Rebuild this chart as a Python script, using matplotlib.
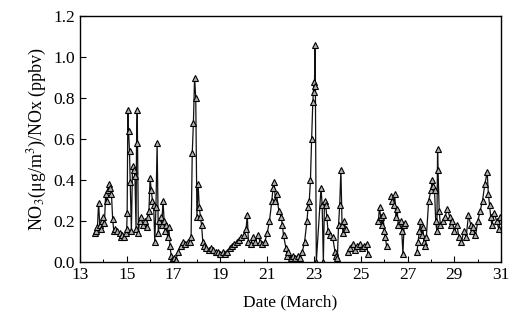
import numpy as np
import matplotlib
matplotlib.use('Agg')
import matplotlib.pyplot as plt

# day of March and NO3/NOx ratio, nan = gap in record
days = [13.65, 13.7, 13.75, 13.8, 13.85, 13.9, 13.95, 14.0, 14.05, 14.1, 14.15, 14.2, 14.25, 14.3, 14.35,
        14.4, 14.45, 14.5, 14.6, 14.7, 14.75, 14.8, 14.9, 14.95, 15.0, 15.02, 15.05, 15.08, 15.12, 15.15,
        15.2, 15.25, 15.3, 15.35, 15.4, 15.42, 15.45, 15.5, 15.55, 15.6, 15.7, 15.8, 15.85, 15.9, 15.95,
        16.0, 16.05, 16.1, 16.15, 16.2, 16.25, 16.3, 16.35, 16.4, 16.45, 16.5, 16.55, 16.6, 16.65, 16.7,
        16.75, 16.8, 16.85, 16.9, 16.95, 17.0, 17.05, 17.1, 17.2, 17.3, 17.4, 17.5, 17.6, 17.7, 17.75,
        17.8, 17.85, 17.9, 17.95, 18.0, 18.05, 18.1, 18.15, 18.2, 18.25, 18.3, 18.4, 18.5, 18.6, 18.7,
        18.8, 18.9, 19.0, 19.1, 19.2, 19.3, 19.4, 19.5, 19.6, 19.7, 19.8, 19.9, 20.0, 20.1, 20.15,
        20.2, 20.3, 20.4, 20.5, 20.6, 20.7, 20.8, 20.9, 21.0, 21.1, 21.2, 21.25, 21.3, 21.35, 21.4,
        21.5, 21.6, 21.65, 21.7, 21.8, 21.85, 21.9, 22.0, 22.1, 22.2, 22.3, 22.4, 22.5, 22.6, 22.7,
        22.75, 22.8, 22.85, 22.9, 22.95, 23.0, 23.02, 23.04, 23.06, 23.1, 23.3, 23.35, 23.4, 23.45, 23.5,
        23.55, 23.6, 23.7, 23.8, 23.9, 23.95, 24.0, 24.05, 24.1, 24.15, 24.2, 24.25, 24.3, 24.35, 24.4,
        24.45, 24.55, 24.65, 24.75, 24.85, 24.95, 25.05, 25.15, 25.25, 25.3, 25.5,
        25.75, 25.8, 25.85, 25.9, 25.95, 26.0, 26.05, 26.1, 26.2,
        26.3, 26.35, 26.4, 26.45, 26.5, 26.55, 26.6, 26.7, 26.75, 26.8, 26.85, 26.9, 27.1,
        27.4, 27.45, 27.5, 27.55, 27.6, 27.65, 27.7, 27.75, 27.8, 27.9, 28.0, 28.05, 28.1, 28.15,
        28.2, 28.25, 28.28, 28.3, 28.35, 28.4, 28.5, 28.6, 28.7, 28.8, 28.85, 28.9, 29.0, 29.1, 29.2,
        29.3, 29.4, 29.5, 29.6, 29.7, 29.75, 29.8, 29.9, 30.0, 30.1, 30.2, 30.3, 30.4, 30.45, 30.5,
        30.55, 30.6, 30.7, 30.8, 30.9, 30.95]
ratio = [0.14, 0.15, 0.17, 0.29, 0.18, 0.16, 0.20, 0.22, 0.19, 0.33, 0.30, 0.35, 0.38, 0.36, 0.33,
         0.21, 0.15, 0.16, 0.15, 0.14, 0.12, 0.13, 0.12, 0.14, 0.16, 0.24, 0.74, 0.64, 0.54, 0.39,
         0.15, 0.47, 0.45, 0.42, 0.16, 0.58, 0.74, 0.14, 0.20, 0.22, 0.18, 0.20, 0.17, 0.22, 0.25,
         0.41, 0.35, 0.30, 0.28, 0.10, 0.27, 0.58, 0.14, 0.20, 0.22, 0.18, 0.30, 0.20, 0.15, 0.18,
         0.12, 0.17, 0.08, 0.03, 0.01, 0.02, 0.00, 0.01, 0.05, 0.08, 0.10, 0.09, 0.10, 0.10, 0.12,
         0.53, 0.68, 0.90, 0.80, 0.22, 0.38, 0.27, 0.22, 0.18, 0.10, 0.08, 0.07, 0.06, 0.07, 0.06,
         0.05, 0.05, 0.04, 0.05, 0.04, 0.05, 0.07, 0.08, 0.09, 0.10, 0.11, 0.12, 0.13, 0.16, 0.23,
         0.10, 0.09, 0.12, 0.10, 0.13, 0.10, 0.09, 0.10, 0.14, 0.20, 0.30, 0.36, 0.39, 0.30, 0.33,
         0.25, 0.22, 0.18, 0.13, 0.07, 0.03, 0.05, 0.02, 0.03, 0.02, 0.03, 0.02, 0.05, 0.10, 0.20,
         0.27, 0.30, 0.40, 0.60, 0.78, 0.88, 0.83, 1.06, 0.86, 0.00, 0.36, 0.28, 0.00, 0.30, 0.28,
         0.22, 0.15, 0.13, 0.12, 0.05, 0.03, 0.02, 0.18, 0.28, 0.45, 0.18, 0.14, 0.20, 0.16, np.nan,
         0.05, 0.07, 0.09, 0.06, 0.08, 0.09, 0.07, 0.08, 0.09, 0.04, np.nan,
         0.20, 0.27, 0.22, 0.18, 0.23, 0.15, 0.12, 0.08, np.nan,
         0.32, 0.30, 0.28, 0.33, 0.22, 0.26, 0.18, 0.20, 0.15, 0.04, 0.18, 0.19, np.nan,
         0.05, 0.10, 0.15, 0.20, 0.13, 0.17, 0.10, 0.08, 0.12, 0.30, 0.35, 0.40, 0.37, 0.35,
         0.20, 0.15, 0.55, 0.45, 0.25, 0.18, 0.20, 0.22, 0.26, 0.22, 0.18, 0.20, 0.15, 0.18, 0.12,
         0.10, 0.15, 0.12, 0.23, 0.18, 0.15, 0.17, 0.13, 0.20, 0.25, 0.30, 0.38, 0.44, 0.33, 0.28,
         0.22, 0.18, 0.24, 0.20, 0.16, 0.22]

x_ticks = [13, 15, 17, 19, 21, 23, 25, 27, 29, 31]
y_ticks = [0.0, 0.2, 0.4, 0.6, 0.8, 1.0, 1.2]

plt.rcParams['font.family'] = ['Liberation Serif', 'DejaVu Serif']
plt.rcParams['mathtext.fontset'] = 'stix'

fig = plt.figure(figsize=(5.12, 3.2), dpi=100)
ax = fig.add_axes([0.156, 0.181, 0.823, 0.769])

ax.plot(days, ratio, color='#111111', lw=0.9, marker='^', ms=5,
        mfc='#b0b0b0', mec='black', mew=0.8)

ax.set_xlim(13, 31)
ax.set_ylim(0, 1.2)
ax.set_xticks(x_ticks)
ax.set_xticks(np.arange(13, 32, 1), minor=True)
ax.set_yticks(y_ticks)
ax.set_yticklabels(['%.1f' % v for v in y_ticks])
ax.tick_params(direction='in', labelsize=12.5, length=4, width=0.8)
ax.tick_params(which='minor', direction='in', length=2.5, width=0.7)
for s in ax.spines.values():
    s.set_linewidth(1.0)

ax.set_xlabel('Date (March)', fontsize=12.5, labelpad=8)
ax.set_ylabel('NO$_3$(\u03bcg/m$^3$)/NOx (ppbv)', fontsize=13, labelpad=3)

fig.savefig('out.png', dpi=100)
